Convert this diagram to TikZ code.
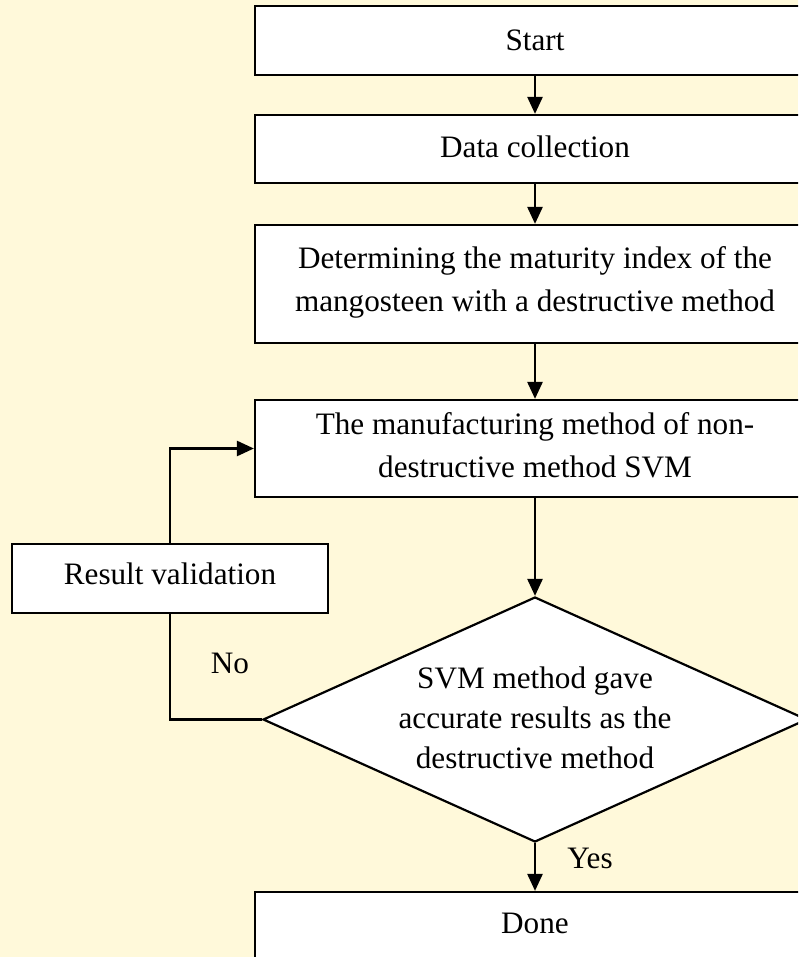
\documentclass[tikz,border=0pt]{standalone}
\usepackage{fontspec}
\setmainfont{Liberation Serif}
\usetikzlibrary{shapes.geometric,arrows.meta}
\definecolor{bgcream}{RGB}{255,249,218}
\tikzset{
  x=1pt, y=-1pt,
  box/.style={draw=black, line width=2.2pt, fill=white, rectangle, minimum width=560pt, inner sep=0pt},
  txt/.style={align=center, inner sep=0pt, font=\fontsize{31.2}{43}\selectfont},
  dtxt/.style={align=center, inner sep=0pt, font=\fontsize{31.2}{40}\selectfont},
  conn/.style={line width=2.5pt, draw=black},
  arr/.style={conn, -{Triangle[length=17pt,width=15pt]}},
  lbl/.style={inner sep=0pt, font=\fontsize{31.2}{43}\selectfont},
}
\begin{document}
\begin{tikzpicture}
\useasboundingbox (0,0) rectangle (798,957);
\clip (0,0) rectangle (798,957);
\fill[bgcream] (0,0) rectangle (798,957);

\node[box, minimum height=69pt] (start) at (535,40.5) {};
\node[txt] (starttxt) at (535,40) {Start};

\node[box, minimum height=68pt] (data) at (535,149) {};
\node[txt] (datatxt) at (535,147) {Data collection};

\node[box, minimum height=118pt] (det) at (535,284) {};
\node[txt] (dettxt) at (535,282) {Determining the maturity index of the\\mangosteen with a destructive method};

\node[box, minimum height=97pt] (man) at (535,448.5) {};
\node[txt] (mantxt) at (535,445) {The manufacturing method of non-\\destructive method SVM};

\node[box, minimum width=316pt, minimum height=69pt] (rv) at (170,578.5) {};
\node[txt] (rvtxt) at (170,574) {Result validation};

\node[diamond, draw=black, line width=2.2pt, fill=white, minimum width=544pt, minimum height=245pt, inner sep=0pt, aspect=2.2] (dec) at (535,719.5) {};
\node[dtxt] (dectxt) at (535,718) {SVM method gave\\accurate results as the\\destructive method};

\node[box, minimum height=72pt] (done) at (535,928) {};
\node[txt] (donetxt) at (535,923) {Done};

\draw[arr] (start.south) -- (data.north);
\draw[arr] (data.south) -- (det.north);
\draw[arr] (det.south) -- (man.north);
\draw[arr] (man.south) -- (dec.north);
\draw[arr] (dec.south) -- (done.north);
\draw[conn] (dec.west) -| (rv.south);
\draw[arr] (rv.north) |- (man.west);

\node[lbl] (yes) at (590,858) {Yes};
\node[lbl] (no) at (230,663) {No};
\end{tikzpicture}
\end{document}
